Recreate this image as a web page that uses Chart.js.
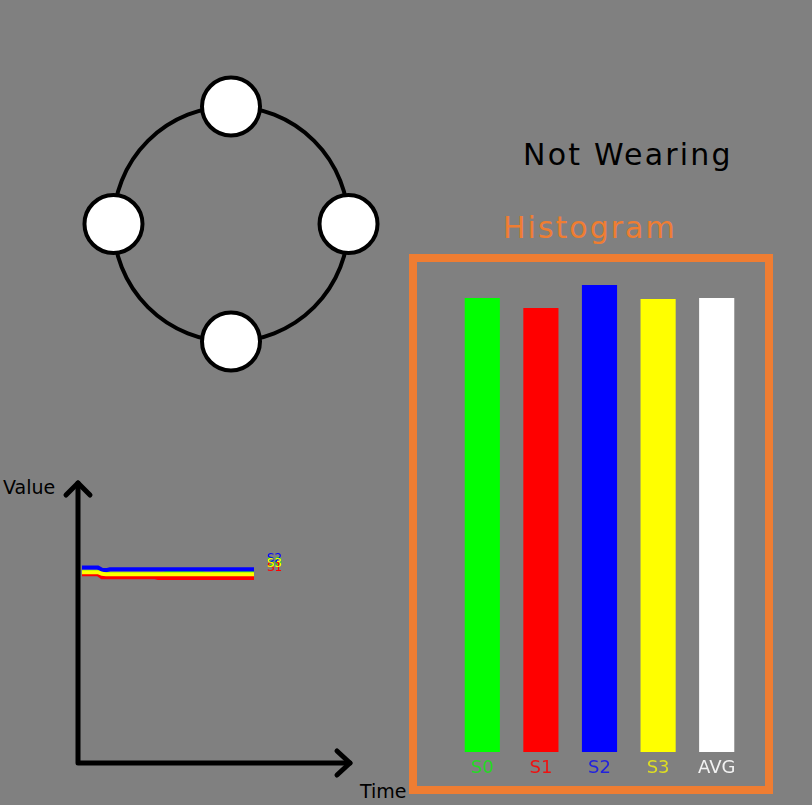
<!DOCTYPE html>
<html>
<head>
<meta charset="utf-8">
<script src="https://cdn.jsdelivr.net/npm/chart.js@4.4.1/dist/chart.umd.min.js"></script>
<style>
  html, body { margin: 0; padding: 0; }
  body { width: 812px; height: 805px; background: #808080; position: relative; overflow: hidden;
         font-family: "DejaVu Sans", sans-serif; }
  .box { position: absolute; }
  .txt { position: absolute; line-height: 1; white-space: nowrap; }
  #frame { position: absolute; left: 409px; top: 254px; width: 364px; height: 540px;
           box-sizing: border-box; border: 8px solid #EF7D32; }
</style>
</head>
<body>
<div class="txt" style="left:523px; top:140px; font-size:30px; letter-spacing:2.2px; color:#000;">Not Wearing</div>
<div class="txt" style="left:503px; top:213px; font-size:30px; letter-spacing:2px; color:#EF7D32;">Histogram</div>
<div class="txt" style="left:3px; top:478px; font-size:19px; color:#000;">Value</div>
<div class="txt" style="left:360px; top:782px; font-size:19px; color:#000;">Time</div>
<div id="frame"></div>

<div class="box" style="left:66px; top:59px; width:330px; height:330px;"><canvas id="ringChart"></canvas></div>
<div class="box" style="left:60px; top:470px; width:300px; height:310px;"><canvas id="lineChart"></canvas></div>
<div class="box" style="left:417px; top:262px; width:349px; height:524px;"><canvas id="histChart"></canvas></div>

<script>
// sensor nodes around the ring
const nodeX = [0, 1, 0, -1];
const nodeY = [1, 0, -1, 0];

// histogram (current readings)
const histLabels = ['S0', 'S1', 'S2', 'S3', 'AVG'];
const histValues = [454, 444, 467, 453, 454];
const histColors = ['#00FF00', '#FF0000', '#0000FF', '#FFFF00', '#FFFFFF'];
const histTextColors = ['#22DD22', '#EE1111', '#2222DD', '#DDDD22', '#F2F2F2'];

// time series, one sample per step
const s0 = [460, 460, 460, 460, 460, 455, 455, 455, 455, 455, 455, 455, 455, 455, 455,
            455, 455, 455, 455, 455, 455, 457, 457, 457, 457, 457, 457, 457, 457, 457,
            457, 455, 455, 457, 457, 457, 457, 457, 457, 457, 457, 457, 457, 457];
const s1 = [455, 455, 455, 455, 455, 448, 448, 448, 448, 448, 448, 448, 448, 448, 448,
            448, 448, 448, 448, 446, 446, 446, 446, 446, 446, 446, 446, 446, 446, 446,
            446, 446, 446, 446, 446, 446, 446, 446, 446, 446, 446, 446, 446, 446];
const s2 = [471, 471, 471, 471, 471, 466, 465, 467, 467, 467, 467, 467, 467, 467, 467,
            467, 467, 467, 467, 467, 467, 467, 467, 467, 467, 467, 467, 467, 467, 467,
            467, 467, 467, 467, 467, 467, 467, 467, 467, 467, 467, 467, 467, 467];
const s3 = [460, 460, 460, 460, 460, 456, 455, 455, 455, 455, 455, 455, 455, 455, 455,
            455, 455, 455, 455, 455, 455, 455, 455, 455, 455, 455, 455, 455, 455, 455,
            455, 455, 455, 455, 455, 455, 455, 455, 455, 455, 455, 455, 455, 455];
const seriesNames = ['S0', 'S1', 'S2', 'S3'];
const seriesColors = ['#00FF00', '#FF0000', '#0000FF', '#FFFF00'];

Chart.defaults.font.family = '"DejaVu Sans", sans-serif';
Chart.defaults.animation = false;

// ring behind the nodes
const ringPlugin = {
    id: 'ring',
    beforeDatasetsDraw(chart) {
        const x = chart.scales.x, y = chart.scales.y;
        const cx = x.getPixelForValue(0), cy = y.getPixelForValue(0);
        const r = x.getPixelForValue(1) - cx;
        const ctx = chart.ctx;
        ctx.save();
        ctx.beginPath();
        ctx.arc(cx, cy, r, 0, Math.PI * 2);
        ctx.lineWidth = 4;
        ctx.strokeStyle = '#000';
        ctx.stroke();
        ctx.restore();
    }
};

new Chart(document.getElementById('ringChart'), {
    type: 'scatter',
    data: {
        datasets: [{
            data: nodeX.map((v, i) => ({x: v, y: nodeY[i]})),
            pointRadius: 29,
            pointBorderWidth: 4,
            pointBackgroundColor: '#FFFFFF',
            pointBorderColor: '#000000',
            clip: false,
        }]
    },
    options: {
        maintainAspectRatio: false,
        events: [],
        layout: {padding: 0, autoPadding: false},
        plugins: {legend: {display: false}, tooltip: {enabled: false}},
        scales: {
            x: {type: 'linear', min: -1.404, max: 1.404, display: false},
            y: {type: 'linear', min: -1.404, max: 1.404, display: false},
        }
    },
    plugins: [ringPlugin]
});

// axes with arrows + end labels
const axesPlugin = {
    id: 'arrowAxes',
    afterDatasetsDraw(chart) {
        const a = chart.chartArea;
        const ctx = chart.ctx;
        ctx.save();
        ctx.strokeStyle = '#000';
        ctx.lineWidth = 5;
        ctx.lineCap = 'round';
        ctx.lineJoin = 'round';
        ctx.beginPath();
        ctx.moveTo(a.left, a.top);
        ctx.lineTo(a.left, a.bottom);
        ctx.lineTo(a.right, a.bottom);
        ctx.stroke();
        ctx.beginPath();
        ctx.moveTo(a.left - 12, a.top + 12);
        ctx.lineTo(a.left, a.top);
        ctx.lineTo(a.left + 12, a.top + 12);
        ctx.stroke();
        ctx.beginPath();
        ctx.moveTo(a.right - 13, a.bottom - 12);
        ctx.lineTo(a.right, a.bottom);
        ctx.lineTo(a.right - 13, a.bottom + 12);
        ctx.stroke();

        ctx.font = '12px "DejaVu Sans", sans-serif';
        ctx.textBaseline = 'alphabetic';
        chart.data.datasets.forEach((ds, i) => {
            const meta = chart.getDatasetMeta(i);
            const last = meta.data[meta.data.length - 1];
            ctx.fillStyle = ds.borderColor;
            ctx.fillText(ds.label, last.x + 13, last.y - 7);
        });
        ctx.restore();
    }
};

const lineData = [s0, s1, s2, s3];
const drawOrder = [3, 2, 1, 0];

new Chart(document.getElementById('lineChart'), {
    type: 'line',
    data: {
        datasets: lineData.map((arr, k) => ({
            label: seriesNames[k],
            data: arr.map((v, i) => ({x: i, y: v})),
            borderColor: seriesColors[k],
            borderWidth: 4,
            pointRadius: 0,
            tension: 0,
            order: drawOrder[k],
        }))
    },
    options: {
        maintainAspectRatio: false,
        events: [],
        layout: {padding: {left: 18, right: 10, top: 13, bottom: 17}, autoPadding: false},
        plugins: {legend: {display: false}, tooltip: {enabled: false}},
        scales: {
            x: {type: 'linear', min: -1, max: 67, display: false},
            y: {type: 'linear', min: 0, max: 675, display: false},
        }
    },
    plugins: [axesPlugin]
});

new Chart(document.getElementById('histChart'), {
    type: 'bar',
    data: {
        labels: histLabels,
        datasets: [{
            data: histValues,
            backgroundColor: histColors,
            borderWidth: 0,
            barPercentage: 1,
            categoryPercentage: 0.6,
        }]
    },
    options: {
        maintainAspectRatio: false,
        events: [],
        layout: {padding: {left: 36, right: 20, top: 0, bottom: 0.4}, autoPadding: false},
        plugins: {legend: {display: false}, tooltip: {enabled: false}},
        scales: {
            x: {
                grid: {display: false, drawTicks: false},
                border: {display: false},
                ticks: {
                    padding: 6,
                    font: {size: 18},
                    color: (c) => histTextColors[c.index],
                }
            },
            y: {min: 0, max: 490, display: false},
        }
    }
});
</script>
</body>
</html>
